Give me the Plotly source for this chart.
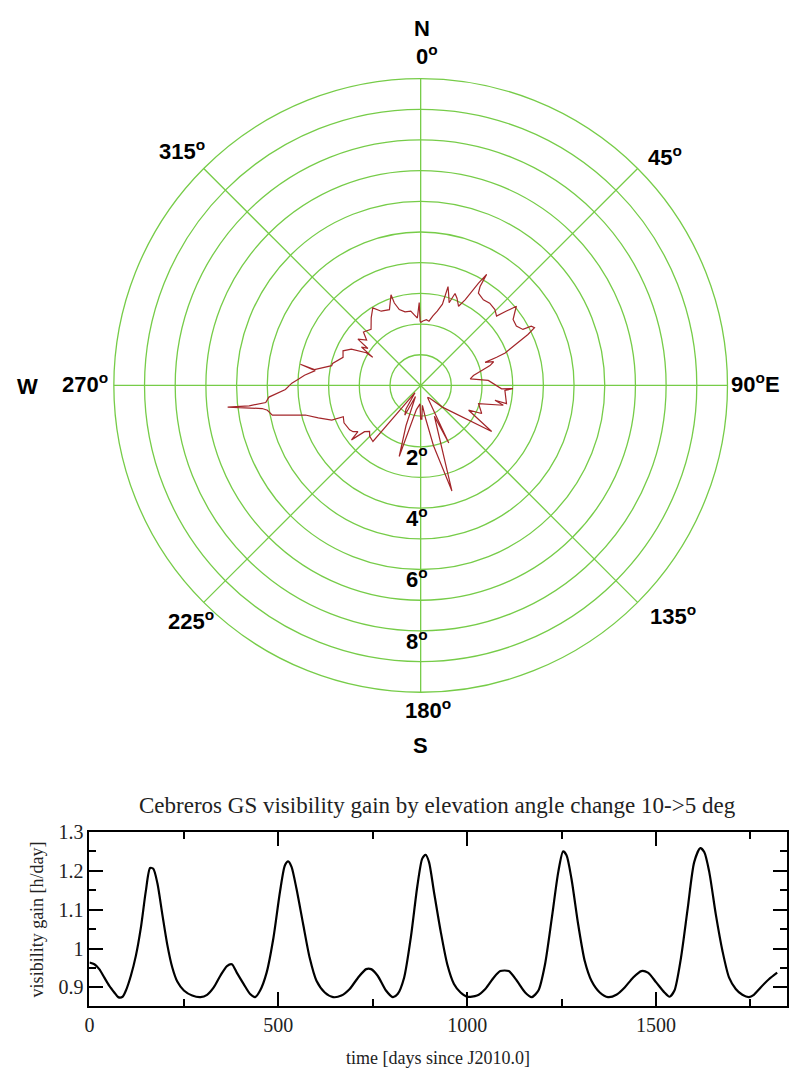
import plotly.graph_objects as go

# ---------------- horizon profile (azimuth deg, elevation deg) ----------------
azimuth = [0, 2, 5, 7.4, 10, 12.6, 15, 15.5, 17.2, 19, 20.5, 22.6, 25.6, 27.5, 29.5,
           30.7, 31, 32, 36.2, 40, 44.4, 47.6, 49.1, 50.4, 52, 54.5, 58.2, 61.3, 61.8,
           63.1, 64.6, 67.9, 69, 69.7, 70.3, 72, 74, 76.3, 79.4, 82.5, 85.8, 92.4, 92,
           93.4, 102, 101.3, 103.5, 107.5, 114.7, 117.3, 123, 135, 145, 150, 154, 156,
           163.5, 168, 171.5, 175, 178, 180, 182, 190, 196.8, 200, 205, 208, 212, 218,
           220.4, 225, 228, 230.5, 231.8, 233.6, 235.6, 238, 244, 248, 248.7, 252.4,
           255.6, 258.7, 260.8, 261.7, 263.6, 263.2, 263.7, 265.6, 268.3, 271, 273, 275,
           278, 280, 278.5, 282.5, 284, 289.9, 294, 297.6, 301, 300.4, 303, 305, 306.4,
           310, 313, 315, 318.5, 323.8, 328.3, 332, 337.6, 341.9, 342.3, 344.3, 348,
           352.4, 355, 357.2, 359, 359.5, 360]
elevation = [2.05, 2.10, 2.15, 2.11, 2.30, 2.48, 2.74, 3.34, 3.09, 2.85, 3.20, 3.08, 2.86, 3.15, 3.83,
             4.21, 3.76, 3.55, 3.46, 3.50, 3.46, 3.35, 3.70, 4.05, 3.90, 3.70, 3.67, 3.80, 4.09,
             4.16, 3.87, 3.13, 2.95, 2.64, 2.23, 2.50, 2.35, 2.05, 1.75, 1.63, 2.21, 2.64, 3.01,
             2.75, 2.86, 2.47, 2.77, 1.98, 2.19, 1.76, 2.76, 1.00, 0.50, 0.45, 2.09, 1.10,
             3.59, 2.00, 1.09, 0.65, 1.10, 1.10, 0.60, 0.80, 2.42, 1.40, 0.40, 1.10, 0.90, 0.30,
             2.40, 2.35, 2.24, 2.37, 2.87, 2.54, 2.67, 2.73, 2.78, 2.72, 3.11, 3.50,
             3.88, 4.93, 5.06, 5.22, 6.33, 5.63, 5.08, 4.96, 4.41, 4.20, 3.98, 3.80,
             3.47, 3.98, 3.50, 2.97, 2.96, 2.69, 2.77, 2.55, 2.07, 1.81, 2.30, 2.10, 2.54,
             2.30, 2.55, 2.51, 2.44, 2.73, 2.97, 2.74, 2.67, 3.11, 2.82, 2.57, 2.45,
             2.44, 2.30, 2.20, 2.70, 2.10, 2.05]

ring_values = [1, 2, 3, 4, 5, 6, 7, 8, 9, 10]
spoke_values = [0, 45, 90, 135, 180, 225, 270, 315]
ring_labels = ["2", "4", "6", "8"]
ring_label_values = [2, 4, 6, 8]

# ---------------- visibility gain time series ----------------
days = [0, 13, 26, 39.5, 52.6, 65.8, 76, 87.7, 96.5, 109.6,
        122.8, 136, 149, 160.5, 169, 180, 193, 206, 219.3, 232.5,
        250, 272, 294, 311.4, 329, 346.5, 364, 377, 390, 408,
        425.4, 438.6, 451.8, 469, 487, 504.4, 517.5, 526, 535, 548,
        566, 583, 601, 623, 645, 667, 689, 711, 732.5, 745.6,
        763, 785, 803, 816, 833, 851, 868, 881, 890, 899,
        912, 929.8, 947.4, 965, 982.5, 1000, 1026, 1048, 1070, 1087.7,
        1110, 1131.6, 1153.5, 1171, 1188.6, 1206, 1224, 1241.2, 1254, 1263,
        1276, 1294, 1311.4, 1329, 1351, 1373, 1395, 1417, 1439, 1461,
        1478.5, 1500.4, 1522.3, 1535.5, 1548.7, 1566, 1583.8, 1601, 1617, 1627.6,
        1640.8, 1658.3, 1676, 1693.4, 1711, 1728.5, 1746, 1759, 1777, 1798.7,
        1820.7]
gain = [0.964, 0.9595, 0.947, 0.925, 0.904, 0.887, 0.875, 0.876, 0.892, 0.930,
        0.981, 1.053, 1.146, 1.207, 1.205, 1.167, 1.087, 1.010, 0.951, 0.915,
        0.892, 0.879, 0.875, 0.881, 0.900, 0.930, 0.955, 0.9595, 0.938, 0.909,
        0.883, 0.875, 0.892, 0.938, 1.027, 1.146, 1.214, 1.224, 1.210, 1.154,
        1.061, 0.976, 0.917, 0.887, 0.875, 0.879, 0.896, 0.925, 0.947, 0.947,
        0.930, 0.892, 0.875, 0.883, 0.925, 1.030, 1.160, 1.231, 1.241, 1.222,
        1.146, 1.044, 0.959, 0.909, 0.887, 0.876, 0.879, 0.896, 0.925, 0.942,
        0.942, 0.917, 0.887, 0.875, 0.892, 0.959, 1.078, 1.197, 1.2496, 1.240,
        1.180, 1.061, 0.967, 0.917, 0.887, 0.875, 0.881, 0.900, 0.925, 0.942,
        0.938, 0.913, 0.887, 0.876, 0.892, 0.976, 1.103, 1.222, 1.258, 1.248,
        1.197, 1.087, 0.993, 0.925, 0.896, 0.881, 0.875, 0.881, 0.900, 0.921,
        0.938]

x_ticks = [0, 500, 1000, 1500]
y_ticks = [0.9, 1.0, 1.1, 1.2, 1.3]
y_tick_text = ["0.9", "1", "1.1", "1.2", "1.3"]

title_text = "Cebreros GS visibility gain by elevation angle change 10->5 deg"
x_title = "time [days since J2010.0]"
y_title = "visibility gain [h/day]"

W, H = 793, 1072
GREEN = "#76cc48"
LINE_RED = "#a3262a"

fig = go.Figure()

fig.add_trace(go.Scatterpolar(
    r=elevation, theta=azimuth, mode="lines",
    line=dict(color=LINE_RED, width=1.2), showlegend=False, hoverinfo="skip",
))

fig.add_trace(go.Scatter(
    x=days, y=gain, mode="lines", xaxis="x", yaxis="y",
    line=dict(color="black", width=2.2, shape="spline", smoothing=0.7),
    showlegend=False, hoverinfo="skip",
))

# polar geometry (pixels)
cx, cy, R = 418.3, 378.3, 310.0
fig.update_layout(
    width=W, height=H,
    margin=dict(l=0, r=0, t=0, b=0),
    paper_bgcolor="white", plot_bgcolor="white",
    polar=dict(
        domain=dict(x=[(cx - R) / W, (cx + R) / W], y=[1 - (cy + R) / H, 1 - (cy - R) / H]),
        bgcolor="white",
        angularaxis=dict(rotation=90, direction="clockwise", tickmode="array",
                         tickvals=spoke_values, showticklabels=False, ticks="",
                         showgrid=True, gridcolor=GREEN, gridwidth=1.3,
                         showline=True, linecolor=GREEN, linewidth=1.3),
        radialaxis=dict(range=[0, 10], tickmode="array", tickvals=ring_values,
                        showticklabels=False, ticks="", showline=False,
                        showgrid=True, gridcolor=GREEN, gridwidth=1.3),
    ),
    xaxis=dict(domain=[85 / W, 786.7 / W], range=[0, 1846], anchor="y",
               tickmode="array", tickvals=x_ticks, ticks="inside", ticklen=14,
               tickwidth=2, tickcolor="black", showline=True, linecolor="black",
               linewidth=2, mirror="ticks", showgrid=False, zeroline=False,
               tickfont=dict(family="Liberation Serif", size=20, color="#222"),
               minor=dict(dtick=250, tick0=0, ticks="inside", ticklen=7,
                          tickwidth=2, tickcolor="black")),
    yaxis=dict(domain=[1 - 1005 / H, 1 - 829.3 / H], range=[0.853, 1.3], anchor="x",
               tickmode="array", tickvals=y_ticks, ticktext=y_tick_text,
               ticks="inside", ticklen=14, tickwidth=2, tickcolor="black",
               showline=True, linecolor="black", linewidth=2, mirror="ticks",
               showgrid=False, zeroline=False,
               tickfont=dict(family="Liberation Serif", size=20, color="#222"),
               minor=dict(dtick=0.05, tick0=0.85, ticks="inside", ticklen=7,
                          tickwidth=2, tickcolor="black")),
)

bold = dict(family="Liberation Sans", size=22, color="black", weight="bold")


def label(text, px, py, font=bold, **kw):
    fig.add_annotation(text=text, x=px / W, y=1 - py / H, xref="paper", yref="paper",
                       showarrow=False, xanchor="center", yanchor="middle", font=font, **kw)


deg = "<sup>o</sup>"
label("N", 420, 18)
label("0" + deg, 425, 44)
label("45" + deg, 664, 146)
label("90" + deg + "E", 755, 376)
label("135" + deg, 672, 610)
label("180" + deg, 426, 705)
label("S", 418, 742)
label("225" + deg, 187, 615)
label("270" + deg, 81, 376)
label("W", 23, 379)
label("315" + deg, 178, 140)
for t, v in zip(ring_labels, ring_label_values):
    label(t + deg, 415, cy + v * R / 10 + 9)

serif_title = dict(family="Liberation Serif", size=23, color="#222")
serif_lab = dict(family="Liberation Serif", size=18, color="#222")
label(title_text, 435.5, 803, font=serif_title)
label(x_title, 435.5, 1058, font=serif_lab)
label(y_title, 32, 918, font=serif_lab, textangle=-90)

# remove the default page margin so the figure sits at the window's top-left corner
fig.write_html("out.html",
               config={"displayModeBar": False, "staticPlot": True},
               post_script="document.body.style.margin='0px';document.body.style.overflow='hidden';")
